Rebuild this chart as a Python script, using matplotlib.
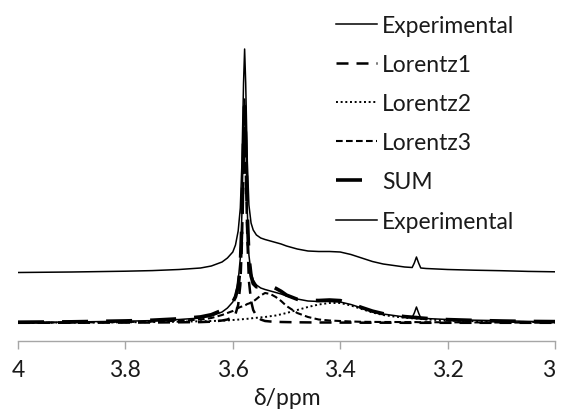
import matplotlib
matplotlib.use("Agg")
import matplotlib.pyplot as plt
import numpy as np

plt.rcParams['font.family'] = ['Lato', 'DejaVu Sans']

# chemical shift grid (ppm), denser round the main peak
shift = [4.00, 3.90, 3.80, 3.75, 3.70, 3.66, 3.64, 3.62, 3.61, 3.60,
         3.595, 3.59, 3.586, 3.583, 3.580, 3.578, 3.576, 3.573, 3.570, 3.566,
         3.562, 3.556, 3.548, 3.540, 3.53, 3.52, 3.51, 3.50, 3.48, 3.46,
         3.44, 3.42, 3.40, 3.38, 3.36, 3.34, 3.32, 3.30, 3.28, 3.266,
         3.262, 3.258, 3.254, 3.250, 3.24, 3.20, 3.15, 3.10, 3.05, 3.00]

experimental = [0.5, 1, 1.8, 2.4, 3.5, 5, 7, 11, 15, 21,
                28, 42, 65, 110, 190, 224, 190, 112, 68, 50,
                43, 38, 35, 33.5, 32, 30.5, 29, 27, 24, 22,
                21.5, 21.5, 21, 18.5, 15, 11.5, 9, 7.5, 6, 5.5,
                10, 16, 10, 5, 4.5, 3.5, 2.8, 2.3, 1.6, 1.2]

lorentz1 = [0.2, 0.3, 0.4, 0.5, 0.7, 0.9, 1.3, 2.5, 3.5, 6,
            9, 18, 38, 80, 160, 195, 160, 85, 42, 22,
            13, 7, 3.5, 2, 1.5, 1.2, 1, 0.9, 0.7, 0.6,
            0.5, 0.5, 0.4, 0.4, 0.3, 0.3, 0.3, 0.3, 0.2, 0.2,
            0.2, 0.2, 0.2, 0.2, 0.2, 0.2, 0.2, 0.2, 0.2, 0.2]

lorentz2 = [0.3, 0.4, 0.7, 0.9, 1.3, 1.7, 2, 2.3, 2.6, 3,
            3.2, 3.4, 3.5, 3.7, 3.9, 4, 4.1, 4.2, 4.4, 4.6,
            4.9, 5.2, 5.6, 6, 6.8, 7.5, 8.7, 10, 13, 16,
            18.5, 20, 20, 17.5, 14, 10.5, 8, 6.5, 5.3, 4.7,
            4.5, 4.4, 4.2, 4, 3.6, 2.5, 1.8, 1.3, 1, 0.8]

lorentz3 = [0.3, 0.5, 1, 1.4, 2.2, 3.5, 5, 8, 10, 12,
            14, 15, 16, 16.5, 17, 17.5, 18, 19, 19.5, 20.5,
            21.5, 24, 27.5, 30, 29, 26, 22, 17, 10, 6,
            3.5, 2.5, 2, 1.5, 1.2, 1.1, 1, 1, 0.9, 0.9,
            0.9, 0.9, 0.8, 0.8, 0.8, 0.7, 0.6, 0.5, 0.4, 0.4]

fit_sum = [0.8, 1.2, 2.1, 2.8, 4.2, 6.1, 8.3, 12.8, 16.1, 21,
           26.2, 36.4, 57.5, 100.2, 180.9, 216.5, 182.1, 108.2, 65.9, 47.1,
           39.4, 36.2, 36.6, 38, 37.3, 34.7, 31.7, 27.9, 23.7, 22.6,
           22.5, 23, 22.4, 19.4, 15.5, 11.9, 9.3, 7.8, 6.4, 5.8,
           5.6, 5.5, 5.2, 5.0, 4.6, 3.4, 2.6, 2.0, 1.6, 1.4]

# the top trace is the same spectrum shifted up
offset = 50

xticks = [4, 3.8, 3.6, 3.4, 3.2, 3]
xtick_labels = ['4', '3.8', '3.6', '3.4', '3.2', '3']

fig = plt.figure(figsize=(5.61, 4.14), dpi=100)
ax = fig.add_axes([18 / 561, (414 - 342) / 414, (555 - 18) / 561, 342 / 414])

x = np.array(shift)
ax.plot(x, np.array(experimental) + offset, color='black', lw=1.1, label='Experimental')
ax.plot(x, lorentz1, color='black', lw=1.8, ls=(0, (4.8, 3.2)), label='Lorentz1')
ax.plot(x, lorentz2, color='black', lw=1.4, ls=(0, (1, 1.4)), label='Lorentz2')
ax.plot(x, lorentz3, color='black', lw=1.5, ls=(0, (3.2, 1.6)), label='Lorentz3')
ax.plot(x, fit_sum, color='black', lw=2.6, ls=(0, (7.2, 5.0)), label='SUM')
ax.plot(x, experimental, color='black', lw=1.1, label='Experimental')

ax.set_xlim(4, 3)
ax.set_ylim(-18, 324)

for s in ['top', 'left', 'right']:
    ax.spines[s].set_visible(False)
ax.spines['bottom'].set_color('#a6a6a6')
ax.spines['bottom'].set_linewidth(1.0)
ax.set_yticks([])
ax.set_xticks(xticks)
ax.set_xticklabels(xtick_labels)
ax.tick_params(axis='x', direction='out', length=6, width=1.0, color='#a6a6a6',
               pad=7, labelsize=16.5, labelcolor='#1a1a1a')
# keep the last label inside the canvas
ax.get_xticklabels()[-1].set_horizontalalignment('right')
ax.set_xlabel('δ/ppm', fontsize=16.5, color='#1a1a1a', labelpad=5)

leg = ax.legend(loc='upper left', bbox_to_anchor=(336 / 561, 1 - 16 / 414),
                bbox_transform=fig.transFigure, frameon=False, fontsize=16.5,
                handlelength=1.79, handletextpad=0.22, labelspacing=0.79,
                borderaxespad=0, borderpad=0)
for t in leg.get_texts():
    t.set_color('#1a1a1a')

fig.savefig('out.png', dpi=100)
